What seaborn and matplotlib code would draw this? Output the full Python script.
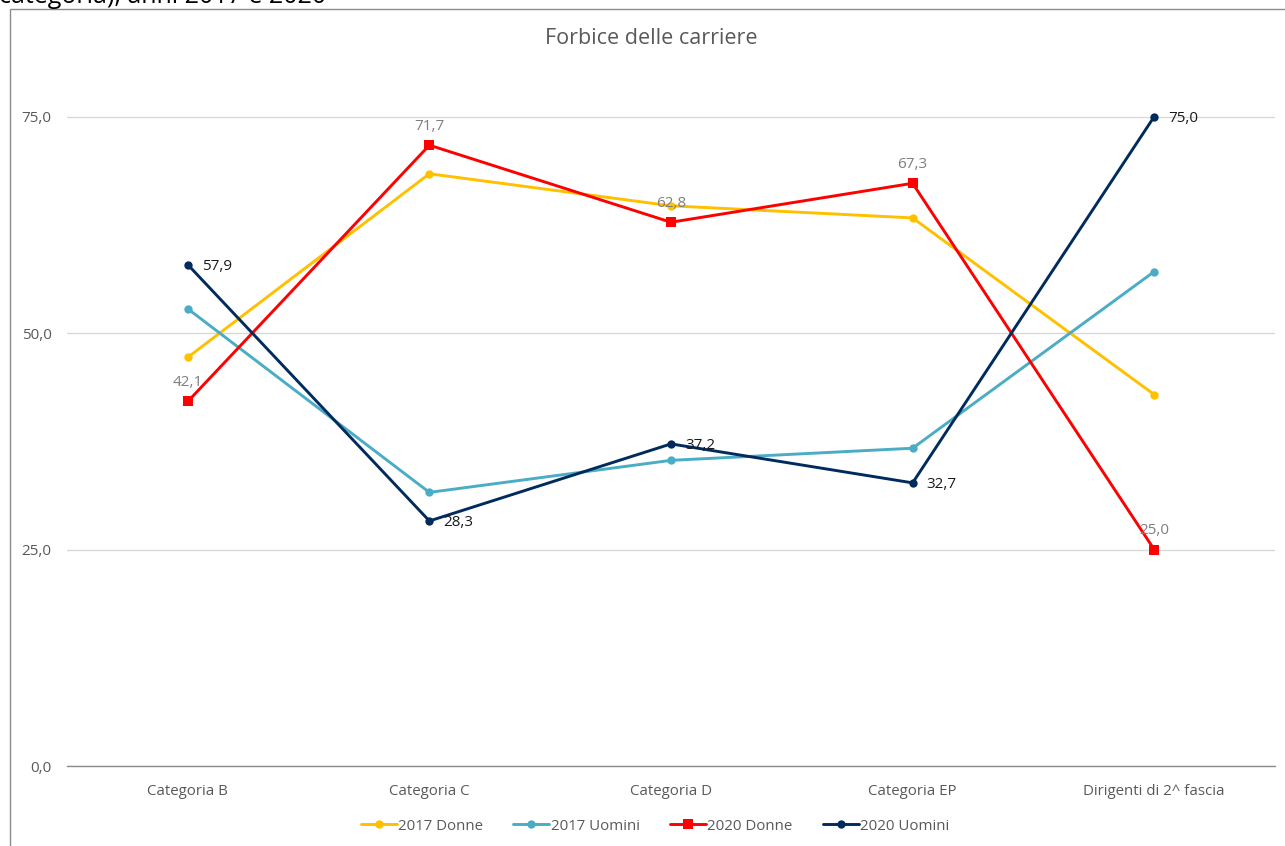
import numpy as np
import matplotlib
matplotlib.use("Agg")
import matplotlib.pyplot as plt
from matplotlib.patches import Rectangle
from matplotlib.ticker import FixedLocator, FuncFormatter
import seaborn as sns

# Data: share of women / men per staff category (%)
categories = ["Categoria B", "Categoria C", "Categoria D", "Categoria EP", "Dirigenti di 2^ fascia"]
donne_2017 = [47.2, 68.4, 64.7, 63.3, 42.9]
uomini_2017 = [52.8, 31.6, 35.3, 36.7, 57.1]
donne_2020 = [42.1, 71.7, 62.8, 67.3, 25.0]
uomini_2020 = [57.9, 28.3, 37.2, 32.7, 75.0]
series_names = ["2017 Donne", "2017 Uomini", "2020 Donne", "2020 Uomini"]
y_ticks = [0, 25, 50, 75]

sns.set_theme(style="white")
plt.rcParams["font.family"] = ["Open Sans", "DejaVu Sans"]

W, H = 1285, 846
fig = plt.figure(figsize=(W / 100, H / 100), dpi=100)
ax = fig.add_axes([67 / W, 1 - 766 / H, (1275 - 67) / W, (766 - 56) / H])

x = np.arange(len(categories))
styles = [
    (donne_2017, "#FFC000", "o", 6),
    (uomini_2017, "#4BACC6", "o", 6),
    (donne_2020, "#FF0000", "s", 7),
    (uomini_2020, "#002B5C", "o", 6),
]
for (vals, color, marker, ms), name in zip(styles, series_names):
    sns.lineplot(x=x, y=vals, ax=ax, color=color, marker=marker, markersize=ms,
                 markeredgewidth=0, linewidth=2.1, label=name, legend=False)

# Value labels for 2020
for xi, v in zip(x, donne_2020):
    ax.annotate(f"{v:.1f}".replace(".", ","), (xi, v), xytext=(0, 15),
                textcoords="offset points", ha="center", va="center_baseline",
                fontsize=11, color="#7f7f7f")
for xi, v in zip(x, uomini_2020):
    ax.annotate(f"{v:.1f}".replace(".", ","), (xi, v), xytext=(10, 0),
                textcoords="offset points", ha="left", va="center_baseline",
                fontsize=11, color="#1a1a1a")

ax.set_xlim(-0.5, len(categories) - 0.5)
ax.set_ylim(0, 82)
ax.set_xticks(x)
ax.set_xticklabels(categories, fontsize=10.8, color="#595959")
ax.xaxis.set_minor_locator(FixedLocator(np.arange(-0.5, len(categories), 1.0)))
ax.tick_params(axis="x", which="major", length=0, pad=13)
ax.tick_params(axis="x", which="minor", length=7, width=1, color="#8c8c8c", direction="out")
ax.set_yticks(y_ticks)
ax.yaxis.set_major_formatter(FuncFormatter(lambda v, p: f"{v:.1f}".replace(".", ",")))
ax.tick_params(axis="y", length=0, pad=11, labelsize=11, labelcolor="#595959")
ax.grid(axis="y", color="#d9d9d9", linewidth=1)
ax.grid(axis="x", visible=False)
for s in ["left", "right", "top"]:
    ax.spines[s].set_visible(False)
ax.spines["bottom"].set_color("#8c8c8c")
ax.spines["bottom"].set_linewidth(1)
ax.set_xlabel("")
ax.set_ylabel("")

fig.text(651 / W, 1 - 39 / H, "Forbice delle carriere", ha="center", va="center",
         fontsize=15.5, color="#595959")

handles, labels = ax.get_legend_handles_labels()
fig.legend(handles, labels, loc="center", bbox_to_anchor=(655 / W, 1 - 826 / H),
           ncol=4, frameon=False, fontsize=10.8, labelcolor="#595959",
           handlelength=2.4, handletextpad=0.1, columnspacing=2.0)

# Chart area frame and the caption line above it
fig.patches.append(Rectangle((9.5 / W, -0.1), 1.2, 1 - 9.5 / H + 0.1,
                             transform=fig.transFigure, fill=False,
                             edgecolor="#8c8c8c", linewidth=1))
fig.text(-1 / W, 1 - 3 / H, "categoria), anni 2017 e 2020", ha="left", va="baseline",
         fontsize=18, color="#000000")

fig.savefig("out.png", dpi=100)
